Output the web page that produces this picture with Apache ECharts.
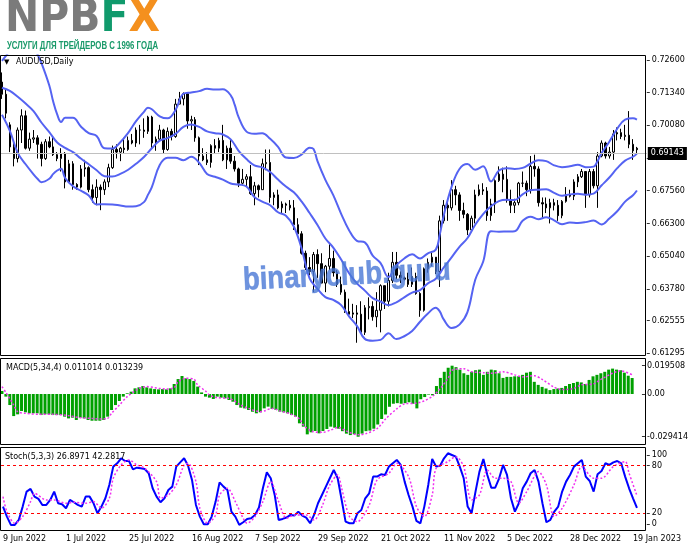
<!DOCTYPE html>
<html><head><meta charset="utf-8">
<script src="https://cdn.jsdelivr.net/npm/echarts@6/dist/echarts.min.js"></script>
<style>html,body{margin:0;padding:0;background:#fff}#c{width:691px;height:549px}</style>
</head><body><div id="c"></div>
<script>
const dates = ['9 Jun 2022','10 Jun 2022','13 Jun 2022','14 Jun 2022','15 Jun 2022','16 Jun 2022','17 Jun 2022','20 Jun 2022','21 Jun 2022','22 Jun 2022',
'23 Jun 2022','24 Jun 2022','27 Jun 2022','28 Jun 2022','29 Jun 2022','30 Jun 2022','1 Jul 2022','4 Jul 2022','5 Jul 2022','6 Jul 2022',
'7 Jul 2022','8 Jul 2022','11 Jul 2022','12 Jul 2022','13 Jul 2022','14 Jul 2022','15 Jul 2022','18 Jul 2022','19 Jul 2022','20 Jul 2022',
'21 Jul 2022','22 Jul 2022','25 Jul 2022','26 Jul 2022','27 Jul 2022','28 Jul 2022','29 Jul 2022','1 Aug 2022','2 Aug 2022','3 Aug 2022',
'4 Aug 2022','5 Aug 2022','8 Aug 2022','9 Aug 2022','10 Aug 2022','11 Aug 2022','12 Aug 2022','15 Aug 2022','16 Aug 2022','17 Aug 2022',
'18 Aug 2022','19 Aug 2022','22 Aug 2022','23 Aug 2022','24 Aug 2022','25 Aug 2022','26 Aug 2022','29 Aug 2022','30 Aug 2022','31 Aug 2022',
'1 Sep 2022','2 Sep 2022','5 Sep 2022','6 Sep 2022','7 Sep 2022','8 Sep 2022','9 Sep 2022','12 Sep 2022','13 Sep 2022','14 Sep 2022',
'15 Sep 2022','16 Sep 2022','19 Sep 2022','20 Sep 2022','21 Sep 2022','22 Sep 2022','23 Sep 2022','26 Sep 2022','27 Sep 2022','28 Sep 2022',
'29 Sep 2022','30 Sep 2022','3 Oct 2022','4 Oct 2022','5 Oct 2022','6 Oct 2022','7 Oct 2022','10 Oct 2022','11 Oct 2022','12 Oct 2022',
'13 Oct 2022','14 Oct 2022','17 Oct 2022','18 Oct 2022','19 Oct 2022','20 Oct 2022','21 Oct 2022','24 Oct 2022','25 Oct 2022','26 Oct 2022',
'27 Oct 2022','28 Oct 2022','30 Oct 2022','31 Oct 2022','1 Nov 2022','2 Nov 2022','3 Nov 2022','4 Nov 2022','7 Nov 2022','8 Nov 2022',
'9 Nov 2022','10 Nov 2022','11 Nov 2022','14 Nov 2022','15 Nov 2022','16 Nov 2022','17 Nov 2022','18 Nov 2022','21 Nov 2022','22 Nov 2022',
'23 Nov 2022','24 Nov 2022','25 Nov 2022','28 Nov 2022','29 Nov 2022','30 Nov 2022','1 Dec 2022','2 Dec 2022','5 Dec 2022','6 Dec 2022',
'7 Dec 2022','8 Dec 2022','9 Dec 2022','12 Dec 2022','13 Dec 2022','14 Dec 2022','15 Dec 2022','16 Dec 2022','19 Dec 2022','20 Dec 2022',
'21 Dec 2022','22 Dec 2022','23 Dec 2022','27 Dec 2022','28 Dec 2022','29 Dec 2022','30 Dec 2022','2 Jan 2023','3 Jan 2023','4 Jan 2023',
'5 Jan 2023','6 Jan 2023','9 Jan 2023','10 Jan 2023','11 Jan 2023','12 Jan 2023','13 Jan 2023','16 Jan 2023','17 Jan 2023','18 Jan 2023',
'19 Jan 2023','20 Jan 2023'];

const opens = [.7175,.7128,.7010,.6925,.6880,.6990,.7045,.6920,.6955,.6960,
.6935,.6880,.6945,.6925,.6895,.6880,.6900,.6790,.6860,.6780,
.6770,.6840,.6845,.6760,.6730,.6770,.6760,.6790,.6845,.6915,
.6905,.6920,.6915,.6950,.6940,.6990,.6990,.6985,.7040,.6940,
.6955,.6990,.6915,.6985,.6965,.7090,.7110,.7130,.7025,.7030,
.6960,.6890,.6875,.6865,.6930,.6920,.6950,.6875,.6920,.6870,
.6840,.6785,.6800,.6810,.6745,.6775,.6760,.6860,.6865,.6730,
.6740,.6690,.6705,.6700,.6690,.6625,.6590,.6515,.6460,.6445,
.6510,.6475,.6400,.6465,.6495,.6440,.6395,.6365,.6290,.6280,
.6285,.6280,.6210,.6305,.6310,.6270,.6295,.6390,.6330,.6410,
.6480,.6430,.6420,.6415,.6395,.6425,.6360,.6295,.6455,.6480,
.6500,.6445,.6640,.6700,.6690,.6760,.6740,.6680,.6665,.6605,
.6650,.6740,.6760,.6755,.6660,.6705,.6795,.6820,.6800,.6720,
.6700,.6710,.6785,.6785,.6760,.6850,.6840,.6710,.6705,.6690,
.6710,.6700,.6660,.6715,.6740,.6735,.6790,.6810,.6830,.6740,
.6830,.6775,.6890,.6940,.6890,.6905,.6975,.6980,.6965,.6970,
.6935,.6920];
const highs = [.7212,.7145,.7020,.6950,.7000,.7070,.7065,.6980,.6990,.6970,
.6945,.6955,.6965,.6965,.6905,.6920,.6905,.6875,.6870,.6785,
.6855,.6875,.6850,.6780,.6800,.6780,.6800,.6860,.6930,.6935,
.6925,.6960,.6965,.6975,.7000,.7010,.7035,.7045,.7045,.6965,
.7010,.6995,.7000,.6995,.7110,.7137,.7135,.7130,.7045,.7040,
.6965,.6920,.6905,.6935,.6955,.6960,.7010,.6930,.6955,.6890,
.6845,.6840,.6820,.6855,.6790,.6780,.6880,.6915,.6915,.6750,
.6760,.6715,.6710,.6720,.6720,.6650,.6600,.6525,.6500,.6520,
.6530,.6515,.6470,.6550,.6525,.6450,.6425,.6375,.6340,.6320,
.6315,.6330,.6315,.6345,.6330,.6365,.6395,.6390,.6440,.6520,
.6520,.6445,.6425,.6440,.6460,.6440,.6365,.6460,.6495,.6520,
.6500,.6660,.6720,.6720,.6797,.6775,.6750,.6710,.6670,.6660,
.6760,.6780,.6785,.6770,.6725,.6800,.6850,.6845,.6850,.6760,
.6725,.6790,.6830,.6795,.6890,.6895,.6850,.6730,.6730,.6725,
.6725,.6720,.6720,.6770,.6760,.6800,.6820,.6840,.6830,.6840,
.6840,.6905,.6950,.6945,.6925,.6990,.7000,.6995,.7010,.7063,
.6955,.6925];
const lows = [.7110,.7035,.6905,.6850,.6865,.6940,.6915,.6910,.6940,.6880,
.6850,.6875,.6920,.6890,.6870,.6830,.6765,.6790,.6760,.6760,
.6765,.6810,.6750,.6710,.6700,.6681,.6740,.6770,.6840,.6880,
.6870,.6900,.6910,.6935,.6925,.6935,.6960,.6975,.6920,.6910,
.6950,.6900,.6910,.6950,.6960,.7090,.7085,.6995,.6990,.6945,
.6855,.6870,.6855,.6845,.6900,.6905,.6870,.6840,.6860,.6830,
.6770,.6780,.6770,.6740,.6700,.6730,.6760,.6835,.6710,.6700,
.6685,.6670,.6670,.6680,.6605,.6580,.6510,.6450,.6430,.6365,
.6420,.6400,.6365,.6450,.6425,.6385,.6355,.6285,.6275,.6265,
.6170,.6205,.6200,.6260,.6255,.6230,.6210,.6300,.6310,.6400,
.6415,.6400,.6410,.6385,.6385,.6355,.6270,.6290,.6440,.6465,
.6435,.6385,.6630,.6640,.6680,.6700,.6640,.6650,.6585,.6600,
.6630,.6735,.6740,.6640,.6640,.6670,.6790,.6750,.6710,.6670,
.6670,.6700,.6770,.6735,.6745,.6810,.6695,.6650,.6670,.6630,
.6680,.6640,.6650,.6710,.6730,.6720,.6770,.6805,.6690,.6730,
.6765,.6690,.6885,.6880,.6880,.6875,.6950,.6955,.6950,.6920,
.6875,.6900];
const closes = [.7128,.7055,.6925,.6880,.6990,.7045,.6920,.6955,.6960,.6935,
.6880,.6945,.6925,.6895,.6880,.6900,.6790,.6860,.6780,.6770,
.6840,.6845,.6760,.6730,.6770,.6760,.6790,.6845,.6915,.6905,
.6920,.6915,.6950,.6940,.6990,.6990,.6985,.7040,.6940,.6955,
.6990,.6915,.6985,.6965,.7090,.7110,.7130,.7025,.7030,.6960,
.6890,.6875,.6865,.6930,.6920,.6950,.6875,.6920,.6870,.6840,
.6785,.6800,.6810,.6745,.6775,.6760,.6860,.6865,.6730,.6740,
.6690,.6705,.6700,.6690,.6625,.6590,.6515,.6460,.6445,.6510,
.6475,.6400,.6465,.6495,.6440,.6395,.6365,.6290,.6280,.6285,
.6280,.6210,.6305,.6310,.6270,.6295,.6390,.6330,.6410,.6480,
.6430,.6420,.6415,.6395,.6425,.6360,.6295,.6455,.6480,.6500,
.6445,.6640,.6700,.6690,.6760,.6740,.6680,.6665,.6605,.6650,
.6740,.6760,.6755,.6660,.6705,.6795,.6820,.6800,.6720,.6700,
.6710,.6785,.6785,.6760,.6850,.6840,.6710,.6705,.6690,.6710,
.6700,.6660,.6715,.6740,.6735,.6790,.6810,.6830,.6740,.6830,
.6775,.6890,.6940,.6890,.6905,.6975,.6980,.6965,.6970,.6935,
.6910,.69143];

// Bollinger band values: [bar index, price]
const bbUpper = [[0,.7257],[2,.7295],[4,.7334],[6,.7326],[8,.7307],[9,.7282],[10,.7249],[12,.7162],[13,.7099],[14,.7050],[15,.7021],[16,.7037],[18,.7037],[20,.7004],[22,.6978],[24,.6967],[26,.6920],[28,.6919],[30,.6943],[32,.6979],[34,.7024],[36,.7060],[37,.7076],[38,.7070],[40,.7043],[42,.7035],[44,.7067],[46,.7130],[48,.7135],[50,.7140],[52,.7149],[54,.7146],[56,.7147],[58,.7124],[59,.7088],[60,.7040],[62,.6984],[64,.6976],[66,.6978],[68,.6956],[70,.6925],[72,.6884],[74,.6882],[76,.6896],[78,.6922],[79,.6917],[80,.6870],[82,.6798],[84,.6739],[86,.6667],[88,.6604],[90,.6563],[92,.6557],[94,.6506],[96,.6477],[98,.6423],[100,.6468],[102,.6495],[104,.6511],[106,.6495],[108,.6515],[110,.6529],[111,.6587],[112,.6660],[114,.6771],[116,.6840],[118,.6859],[120,.6837],[122,.6850],[124,.6792],[126,.6834],[128,.6843],[130,.6840],[132,.6844],[134,.6860],[136,.6874],[138,.6870],[140,.6854],[142,.6847],[144,.6850],[146,.6856],[148,.6847],[150,.6849],[151,.6870],[152,.6900],[154,.6945],[156,.6995],[158,.7030],[160,.7035],[161,.7030]];
const bbMiddle = [[0,.7153],[2,.7141],[4,.7118],[6,.7092],[8,.7063],[10,.7019],[12,.6982],[14,.6942],[16,.6921],[18,.6905],[20,.6880],[22,.6858],[24,.6835],[26,.6812],[28,.6811],[30,.6821],[32,.6837],[34,.6860],[36,.6886],[38,.6920],[40,.6949],[42,.6959],[44,.6975],[46,.7002],[48,.7011],[50,.7002],[52,.6985],[54,.6978],[56,.6973],[58,.6954],[60,.6910],[62,.6878],[64,.6854],[66,.6846],[68,.6828],[70,.6799],[72,.6772],[74,.6750],[76,.6714],[78,.6670],[80,.6624],[82,.6572],[84,.6537],[86,.6491],[88,.6438],[90,.6399],[92,.6371],[94,.6342],[96,.6329],[98,.6315],[100,.6326],[102,.6345],[104,.6363],[106,.6373],[108,.6399],[110,.6417],[112,.6460],[114,.6499],[116,.6540],[118,.6573],[120,.6625],[122,.6666],[124,.6696],[126,.6716],[128,.6721],[130,.6720],[132,.6742],[134,.6758],[136,.6760],[138,.6762],[140,.6748],[142,.6737],[144,.6742],[146,.6744],[148,.6741],[150,.6745],[152,.6776],[154,.6807],[156,.6843],[158,.6872],[160,.6887],[161,.6899]];
const bbLower = [[0,.7049],[2,.6987],[4,.6902],[6,.6858],[8,.6819],[9,.6802],[10,.6789],[12,.6802],[13,.6821],[14,.6834],[15,.6841],[16,.6805],[18,.6773],[20,.6756],[22,.6738],[24,.6703],[26,.6704],[28,.6703],[30,.6699],[32,.6695],[34,.6696],[36,.6712],[37,.6740],[38,.6770],[40,.6855],[42,.6883],[44,.6883],[46,.6874],[48,.6887],[50,.6864],[52,.6821],[54,.6810],[56,.6799],[58,.6784],[60,.6780],[62,.6772],[64,.6732],[66,.6714],[68,.6700],[70,.6673],[72,.6660],[74,.6618],[76,.6532],[78,.6418],[80,.6378],[82,.6346],[84,.6335],[86,.6315],[88,.6272],[90,.6235],[92,.6185],[94,.6178],[96,.6181],[98,.6207],[100,.6184],[102,.6195],[104,.6215],[106,.6251],[108,.6283],[110,.6305],[111,.6291],[112,.6260],[114,.6227],[116,.6240],[118,.6287],[120,.6413],[122,.6482],[124,.6600],[126,.6598],[128,.6599],[130,.6600],[132,.6640],[134,.6656],[136,.6646],[138,.6654],[140,.6642],[142,.6627],[144,.6634],[146,.6632],[148,.6635],[150,.6641],[152,.6626],[154,.6649],[156,.6677],[158,.6714],[160,.6739],[161,.6757]];

const macdMain = [.0021,-.0018,-.0076,-.0152,-.0140,-.0117,-.0126,-.0133,-.0133,-.0133,
-.0145,-.0140,-.0140,-.0145,-.0145,-.0145,-.0156,-.0168,-.0163,-.0179,
-.0163,-.0168,-.0179,-.0184,-.0184,-.0184,-.0179,-.0156,-.0110,-.0076,
-.0048,-.0018,.0005,.0016,.0039,.0046,.0055,.0046,.0039,.0034,
.0032,.0034,.0032,.0039,.0069,.0103,.0124,.0108,.0103,.0090,
.0051,.0011,-.0018,-.0025,-.0034,-.0018,-.0025,-.0030,-.0041,-.0053,
-.0076,-.0094,-.0099,-.0110,-.0122,-.0133,-.0126,-.0099,-.0087,-.0103,
-.0110,-.0122,-.0126,-.0133,-.0145,-.0156,-.0202,-.0225,-.0278,-.0264,
-.0255,-.0271,-.0255,-.0241,-.0225,-.0232,-.0239,-.0256,-.0273,-.0283,
-.0277,-.029414,-.0273,-.0256,-.0252,-.0239,-.0210,-.0172,-.0141,-.0088,
-.0067,-.0063,-.0067,-.0063,-.0057,-.0067,-.0099,-.0036,-.0021,-.0004,
-.0009,.0055,.0111,.0153,.0181,.019508,.0185,.0168,.0143,.0132,
.0153,.0164,.0168,.0132,.0153,.0168,.0164,.0143,.0111,.0118,
.0118,.0122,.0122,.0132,.0147,.0153,.0084,.0063,.0049,.0038,
.0027,.0034,.0038,.0042,.0055,.0069,.0076,.0084,.0080,.0069,
.0097,.0122,.0132,.0143,.0153,.0168,.0175,.0168,.0164,.0147,
.0126,.011014];
const macdSignal = [[0,.0051],[1,.0011],[3,-.0076],[4,-.0122],[6,-.0133],[10,-.0140],[13,-.0140],[17,-.0149],[20,-.0163],[23,-.0168],[25,-.0172],[27,-.0168],[28,-.0133],[30,-.0076],[32,-.0018],[34,.0021],[35,.0039],[37,.0051],[39,.0044],[40,.0039],[42,.0034],[44,.0044],[45,.0085],[47,.0108],[49,.0103],[50,.0062],[52,.0021],[53,-.0007],[55,-.0025],[58,-.0030],[61,-.0076],[63,-.0099],[66,-.0122],[67,-.0117],[69,-.0099],[71,-.0117],[74,-.0140],[76,-.0172],[77,-.0214],[79,-.0255],[81,-.0264],[82,-.0264],[84,-.0248],[86,-.0230],[88,-.0256],[91,-.0281],[93,-.0273],[96,-.0235],[98,-.0172],[101,-.0099],[103,-.0067],[106,-.0063],[108,-.0046],[110,-.0015],[112,.0038],[114,.0111],[115,.0164],[118,.0174],[120,.0153],[123,.0147],[125,.0143],[128,.0153],[131,.0132],[133,.0118],[136,.0126],[138,.0101],[141,.0048],[143,.0031],[146,.0038],[148,.0063],[151,.0069],[153,.0101],[156,.0143],[158,.0160],[161,.013239]];

const stochMain = [28.4,15.8,5.3,5.3,11.6,28.4,47.3,50.7,41.0,38.1,
30.5,30.5,36.8,47.3,32.6,31.3,26.3,36.8,33.9,30.5,
28.4,41.0,41.0,32.6,20.0,28.4,38.9,55.7,78.8,83.0,
89.3,85.9,85.9,75.4,77.5,76.7,75.8,70.4,51.5,41.0,
33.9,38.9,49.4,53.6,78.8,84.2,89.3,80.0,62.0,30.5,
15.8,6.2,6.2,15.8,34.7,59.0,53.6,49.4,22.1,15.8,
5.3,8.7,12.9,13.7,17.9,27.2,51.5,71.6,64.1,43.1,
11.6,12.9,14.6,17.9,17.1,22.1,17.1,14.6,7.4,17.9,
32.6,43.1,53.6,64.1,74.6,64.1,37.0,9.5,7.4,7.4,
20.0,24.2,38.9,45.2,66.2,66.2,69.1,68.3,78.8,83.0,
87.2,80.9,59.9,43.1,28.4,10.4,7.4,28.4,55.7,88.4,
78.8,80.0,89.3,95.6,93.5,91.4,78.8,64.1,28.4,20.0,
47.3,72.5,88.4,68.3,52.3,52.3,64.1,80.9,68.3,38.9,
22.1,32.6,51.5,59.9,70.4,74.6,59.9,32.6,8.7,11.6,
22.1,28.4,47.3,59.9,68.3,78.8,83.0,87.2,66.2,60.7,
47.3,69.1,73.3,83.0,80.9,84.2,85.9,83.0,66.2,51.5,
38.9,26.8971];
const stochSignal = [[0,41.0],[1,22.1],[3,7.4],[5,15.8],[7,34.7],[8,45.2],[11,36.8],[13,36.8],[16,32.6],[18,33.9],[21,32.6],[23,34.7],[25,26.3],[27,38.9],[28,64.1],[30,80.9],[32,87.2],[34,80.9],[36,76.7],[39,59.9],[40,38.9],[42,43.1],[44,55.7],[46,80.9],[47,83.0],[49,59.9],[50,26.3],[52,7.4],[54,17.9],[55,43.1],[57,51.5],[59,34.7],[61,13.7],[62,7.4],[64,15.8],[66,34.7],[68,59.9],[70,34.7],[72,13.7],[74,17.9],[77,17.9],[79,11.6],[81,28.4],[83,55.7],[85,68.3],[86,51.5],[88,15.8],[90,9.5],[93,30.5],[95,62.0],[98,70.4],[100,83.0],[103,66.2],[105,28.4],[107,15.8],[109,43.1],[110,76.7],[113,85.1],[115,91.4],[117,78.8],[119,36.8],[121,43.1],[123,74.6],[125,64.1],[127,64.1],[129,59.9],[131,32.6],[133,47.3],[136,72.5],[138,55.7],[140,15.8],[142,26.3],[145,55.7],[147,78.8],[150,64.1],[152,64.1],[155,78.8],[158,85.1],[159,70.4],[161,42.2817]];

const priceTicks = [0.72600,0.71340,0.70080,0.68820,0.67560,0.66300,0.65040,0.63780,0.62555,0.61295];
const macdTicks = [0.019508,0,-0.029414];
const stochLevels = [20,80];
const stochEnds = [0,100];
const lastPrice = closes[closes.length-1];

const FONT = 'DejaVu Sans';
const cats = dates.concat(['','']);
const BAR = 3.95;
const W = BAR * cats.length;
const bandColor = '#5563f2';

const candleData = opens.map((o,i)=>[o, closes[i], lows[i], highs[i]]);

const chart = echarts.init(document.getElementById('c'), null, {renderer:'canvas'});

function xAx(gi, showLabels){
  return {type:'category', gridIndex:gi, data:cats, boundaryGap:true,
    axisLine:{show:false}, axisTick:{show:false}, splitLine:{show:false},
    axisLabel: showLabels ? {show:true, interval:(idx)=> idx%16===0 && idx<dates.length-1,
      align:'left', margin:4, fontFamily:FONT, fontSize:8, color:'#000'} : {show:false}};
}
function yAx(gi, min, max, ticks, fmt){
  return {type:'value', gridIndex:gi, position:'right', min:min, max:max, scale:true,
    axisLine:{show:false}, splitLine:{show:false},
    axisTick:{show:true, length:3, customValues:ticks, lineStyle:{color:'#333'}},
    axisLabel:{show:true, customValues:ticks, formatter:fmt, margin:5, fontFamily:FONT, fontSize:8, color:'#000'}};
}

const option = {
  animation:false,
  backgroundColor:'#fff',
  grid:[
    {left:-1, top:55.5, width:W, height:300},
    {left:-1, top:358.5, width:W, height:86},
    {left:-1, top:447.5, width:W, height:83}
  ],
  xAxis:[xAx(0,false), xAx(1,false), xAx(2,true)],
  yAxis:[
    yAx(0, 0.612084, 0.727735, priceTicks, v=>v.toFixed(5)),
    yAx(1, -0.034788, 0.024469, macdTicks, v=> v===0 ? '0.00' : v.toFixed(6)),
    yAx(2, -1.7, 102.9, stochLevels, v=>String(v)),
    yAx(2, -9.4, 110.9, stochEnds, v=>String(v))
  ],
  series:[
    {type:'candlestick', xAxisIndex:0, yAxisIndex:0, data:candleData, barWidth:2,
      itemStyle:{color:'#ffffff', color0:'#000000', borderColor:'#000000', borderColor0:'#000000', borderWidth:1},
      markLine:{silent:true, symbol:['none','none'], animation:false,
        data:[{yAxis:lastPrice}],
        lineStyle:{color:'#c0c0c0', width:1, type:'solid'},
        label:{show:true, position:'end', formatter:()=>lastPrice.toFixed(5), backgroundColor:'#000', color:'#fff',
          fontFamily:FONT, fontSize:8, padding:[3,3,2,3], distance:1}}},
    {type:'line', xAxisIndex:0, yAxisIndex:0, data:bbUpper, smooth:0.4, symbol:'none', connectNulls:true, lineStyle:{color:bandColor, width:2}},
    {type:'line', xAxisIndex:0, yAxisIndex:0, data:bbMiddle, smooth:0.4, symbol:'none', connectNulls:true, lineStyle:{color:bandColor, width:2}},
    {type:'line', xAxisIndex:0, yAxisIndex:0, data:bbLower, smooth:0.4, symbol:'none', connectNulls:true, lineStyle:{color:bandColor, width:2}},
    {type:'bar', xAxisIndex:1, yAxisIndex:1, data:macdMain, barWidth:3, itemStyle:{color:'#00a000'}},
    {type:'line', xAxisIndex:1, yAxisIndex:1, data:macdSignal, smooth:0.3, symbol:'none', lineStyle:{color:'#f030f0', width:1.5, type:[2,2]}},
    {type:'line', xAxisIndex:2, yAxisIndex:2, data:stochMain, symbol:'none', lineStyle:{color:'#0000ff', width:2},
      markLine:{silent:true, symbol:['none','none'], animation:false, label:{show:false},
        data: stochLevels.map(v=>({yAxis:v})), lineStyle:{color:'#ff0000', width:1, type:[3,3]}}},
    {type:'line', xAxisIndex:2, yAxisIndex:2, data:stochSignal, smooth:0.3, symbol:'none', lineStyle:{color:'#f030f0', width:1.5, type:[2,2]}}
  ],
  graphic:[
    {type:'rect', shape:{x:0.5, y:55.5, width:645, height:300}, style:{fill:'none', stroke:'#000', lineWidth:1}, silent:true, z:50},
    {type:'rect', shape:{x:0.5, y:358.5, width:645, height:86}, style:{fill:'none', stroke:'#000', lineWidth:1}, silent:true, z:50},
    {type:'rect', shape:{x:0.5, y:447.5, width:645, height:83}, style:{fill:'none', stroke:'#000', lineWidth:1}, silent:true, z:50},
    {type:'text', x:5, y:20, style:{text:'{g|NPB}{f|F}{x|X}', font:'bold 44px "DejaVu Sans"', verticalAlign:'middle', align:'left',
      rich:{g:{fill:'#7b7b7b', font:'bold 44px "DejaVu Sans"'}, f:{fill:'#109a6c', font:'bold 44px "DejaVu Sans"'}, x:{fill:'#f4901e', font:'bold 44px "DejaVu Sans"'}}}, scaleX:0.93, silent:true, z:60},
    {type:'text', x:7, y:46, style:{text:'УСЛУГИ ДЛЯ ТРЕЙДЕРОВ С 1996 ГОДА', font:'bold 11px "Liberation Sans"', fill:'#1a9a6a', verticalAlign:'middle', align:'left'}, scaleX:0.71, silent:true, z:60},
    {type:'text', x:4, y:62, style:{text:'▼', font:'7px "DejaVu Sans"', fill:'#000', verticalAlign:'middle', align:'left'}, silent:true, z:60},
    {type:'text', x:16, y:62, style:{text:'AUDUSD,Daily', font:'8px "DejaVu Sans"', fill:'#000', verticalAlign:'middle', align:'left'}, silent:true, z:60},
    {type:'text', x:6, y:367.5, style:{text:'MACD(5,34,4) 0.011014 0.013239', font:'8px "DejaVu Sans"', fill:'#000', verticalAlign:'middle', align:'left'}, silent:true, z:60},
    {type:'text', x:5, y:456.5, style:{text:'Stoch(5,3,3) 26.8971 42.2817', font:'8px "DejaVu Sans"', fill:'#000', verticalAlign:'middle', align:'left'}, silent:true, z:60},
    {type:'text', x:243, y:281, rotation:0.05, style:{text:'binaryclub.guru', font:'bold 32px "Liberation Sans"', fill:'rgba(74,120,214,0.8)', stroke:'rgba(74,120,214,0.5)', lineWidth:0.8, verticalAlign:'middle', align:'left'}, scaleX:0.86, silent:true, z:70}
  ]
};
chart.setOption(option);
</script></body></html>
